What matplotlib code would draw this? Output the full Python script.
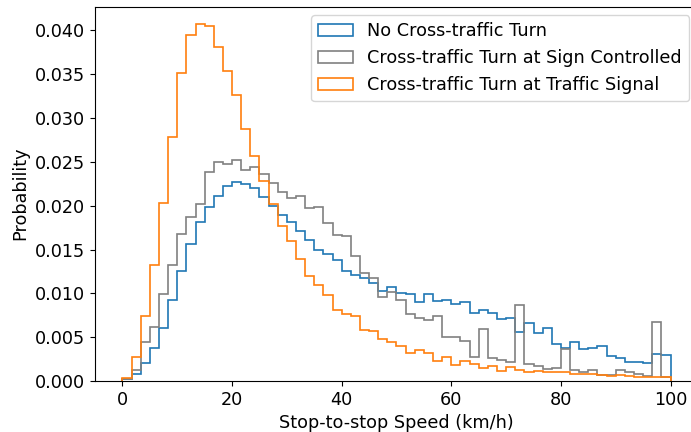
import numpy as np
import matplotlib
matplotlib.use("Agg")
import matplotlib.pyplot as plt

# 60 bins from 0 to 100 km/h, values are probability per bin
bin_edges = np.linspace(0, 100, 61)

no_turn = [
    0.0002, 0.0008, 0.0020, 0.0038, 0.0061, 0.0092, 0.0125, 0.0156, 0.0181, 0.0199,
    0.0211, 0.0222, 0.0227, 0.0225, 0.0220, 0.0210, 0.0200, 0.0189, 0.0181, 0.0171,
    0.0161, 0.0150, 0.0145, 0.0138, 0.0126, 0.0121, 0.0117, 0.0112, 0.0103, 0.0107,
    0.0100, 0.0099, 0.0090, 0.0099, 0.0091, 0.0092, 0.0088, 0.0090, 0.0078, 0.0081,
    0.0078, 0.0071, 0.0072, 0.0056, 0.0066, 0.0055, 0.0060, 0.0042, 0.0038, 0.0045,
    0.0036, 0.0038, 0.0040, 0.0029, 0.0026, 0.0022, 0.0022, 0.0021, 0.0031, 0.0030,
]
sign_controlled = [
    0.0002, 0.0012, 0.0044, 0.0062, 0.0099, 0.0132, 0.0168, 0.0187, 0.0202, 0.0238,
    0.0250, 0.0248, 0.0252, 0.0241, 0.0244, 0.0236, 0.0226, 0.0216, 0.0209, 0.0211,
    0.0197, 0.0198, 0.0180, 0.0167, 0.0166, 0.0143, 0.0123, 0.0117, 0.0096, 0.0102,
    0.0093, 0.0076, 0.0072, 0.0070, 0.0074, 0.0050, 0.0050, 0.0046, 0.0027, 0.0059,
    0.0026, 0.0024, 0.0022, 0.0087, 0.0019, 0.0017, 0.0014, 0.0015, 0.0037, 0.0013,
    0.0010, 0.0013, 0.0007, 0.0007, 0.0013, 0.0010, 0.0008, 0.0006, 0.0067, 0.0005,
]
traffic_signal = [
    0.0003, 0.0027, 0.0074, 0.0132, 0.0203, 0.0278, 0.0352, 0.0395, 0.0407, 0.0405,
    0.0381, 0.0354, 0.0326, 0.0288, 0.0257, 0.0228, 0.0202, 0.0177, 0.0160, 0.0139,
    0.0120, 0.0110, 0.0098, 0.0081, 0.0076, 0.0074, 0.0058, 0.0057, 0.0048, 0.0044,
    0.0040, 0.0032, 0.0035, 0.0032, 0.0023, 0.0027, 0.0018, 0.0023, 0.0019, 0.0015,
    0.0017, 0.0011, 0.0016, 0.0012, 0.0010, 0.0011, 0.0010, 0.0010, 0.0010, 0.0008,
    0.0008, 0.0008, 0.0007, 0.0006, 0.0007, 0.0006, 0.0005, 0.0005, 0.0005, 0.0004,
]

labels = [
    "No Cross-traffic Turn",
    "Cross-traffic Turn at Sign Controlled",
    "Cross-traffic Turn at Traffic Signal",
]
colors = ["tab:blue", "gray", "tab:orange"]

plt.rcParams['font.size'] = 12.7

fig = plt.figure(figsize=(6.91, 4.32), dpi=100)
# axes run a bit past the right edge, like the reference crop
ax = fig.add_axes([95 / 691, 51 / 432, 603 / 691, 374.5 / 432])

centers = (bin_edges[:-1] + bin_edges[1:]) / 2
for vals, lab, c in zip([no_turn, sign_controlled, traffic_signal], labels, colors):
    ax.hist(centers, bins=bin_edges, weights=vals, histtype='step',
            color=c, label=lab, linewidth=1.2)

ax.set_xlabel("Stop-to-stop Speed (km/h)")
ax.set_ylabel("Probability")
ax.legend(loc='upper right')

fig.savefig("out.png", dpi=100)
